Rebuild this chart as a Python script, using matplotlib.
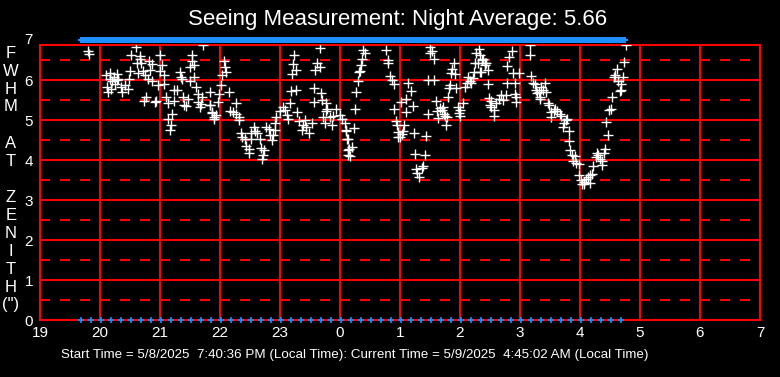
import numpy as np
import matplotlib
matplotlib.use('Agg')
from matplotlib import pyplot as plt
from matplotlib.ticker import MultipleLocator

plt.rcParams['font.family'] = ['Liberation Sans', 'DejaVu Sans']

title = 'Seeing Measurement: Night Average: 5.66'
footer = ('Start Time = 5/8/2025  7:40:36 PM (Local Time): '
          'Current Time = 5/9/2025  4:45:02 AM (Local Time)')
ylabel_letters = ['F', 'W', 'H', 'M', '', 'A', 'T', '', 'Z', 'E', 'N', 'I', 'T', 'H', '(")']
hour_ticks = [19, 20, 21, 22, 23, 24, 25, 26, 27, 28, 29, 30, 31]
hour_labels = ['19', '20', '21', '22', '23', '0', '1', '2', '3', '4', '5', '6', '7']

# measurement times (hours since midnight of 5/8, >24 = next morning)
times = [
    19.795, 19.82, 20.1, 20.17, 20.28, 20.23, 20.16, 20.2, 20.28, 20.3, 20.25, 20.12, 20.14, 20.19, 20.35, 20.42, 20.47, 20.36, 20.48, 20.5, 20.52,
    20.605, 20.62, 20.64, 20.66, 20.67, 20.69, 20.72, 20.75, 20.77, 20.74, 20.8, 20.82, 20.83, 20.86, 20.87, 20.92, 20.94, 20.97, 21.0, 21.0, 21.04, 21.06, 21.07,
    21.1, 21.13, 21.2, 21.14, 21.18, 21.17, 21.24, 21.23, 21.28, 21.34, 21.35, 21.37, 21.39, 21.47, 21.44, 21.4, 21.5, 21.53, 21.54, 21.56, 21.5, 21.57, 21.6, 21.63, 21.7, 21.64, 21.68, 21.67, 21.72,
    21.83, 21.84, 21.86, 21.9, 21.83, 21.87, 21.9, 21.94, 21.97, 21.99, 22.02, 22.04, 22.06, 22.08, 22.1, 22.15, 22.17, 22.22, 22.26, 22.26, 22.31, 22.32,
    22.35, 22.37, 22.41, 22.44, 22.48, 22.48, 22.52, 22.56, 22.59, 22.61, 22.51, 22.66, 22.69, 22.72, 22.7, 22.74, 22.77, 22.81, 22.83, 22.86, 22.89, 22.92, 22.92, 22.94,
    23.0, 23.05, 23.08, 23.11, 23.14, 23.17, 23.29, 23.19, 23.27, 23.24, 23.22, 23.27, 23.2, 23.32, 23.36, 23.39, 23.42, 23.44, 23.48, 23.53, 23.56, 23.57, 23.69, 23.61, 23.59, 23.67, 23.66,
    23.7, 23.77, 23.76, 23.75, 23.72, 23.79, 23.86, 23.83, 23.89, 23.94, 24.0, 24.04, 24.08, 24.1, 24.12, 24.13, 24.14, 24.13, 24.15, 24.2, 24.17, 24.1, 24.24, 24.25, 24.27, 24.3, 24.31, 24.34, 24.35, 24.36, 24.38, 24.41,
    24.77, 24.8, 24.8, 24.83, 24.87, 24.9, 24.9, 24.93, 24.95, 24.97, 25.0, 25.03, 25.05, 24.97, 25.07, 25.02, 25.1, 25.1, 25.14, 25.18, 25.22, 25.24,
    25.25, 25.26, 25.29, 25.32, 25.36, 25.39, 25.42, 25.44, 25.46, 25.47, 25.5, 25.5, 25.54, 25.56, 25.57,
    25.6, 25.62, 25.63, 25.66, 25.7, 25.72, 25.73, 25.75, 25.78, 25.76, 25.8, 25.82, 25.83, 25.85, 25.87, 25.9, 25.92, 25.94, 25.96, 25.98, 26.0, 26.05, 26.0,
    26.08, 26.11, 26.14, 26.17, 26.19, 26.22, 26.23, 26.25, 26.27, 26.31, 26.33, 26.3, 26.34, 26.36, 26.41, 26.39, 26.41, 26.46, 26.35, 26.44, 26.47,
    26.49, 26.52, 26.5, 26.56, 26.52, 26.6, 26.65, 26.68, 26.72, 26.76, 26.56, 26.78, 26.79, 26.81, 26.86, 26.89, 26.91, 26.92, 26.94, 26.93, 26.98,
    27.16, 27.17, 27.19, 27.22, 27.25, 27.27, 27.29, 27.31, 27.33, 27.35, 27.39, 27.42, 27.44, 27.34, 27.46, 27.48,
    27.51, 27.52, 27.56, 27.59, 27.62, 27.66, 27.69, 27.71, 27.73, 27.77, 27.79, 27.81, 27.82, 27.83, 27.86, 27.88, 27.91, 27.94, 27.98,
    27.99, 28.01, 28.03, 28.07, 28.1, 28.13, 28.17, 28.2, 28.16, 28.06,
    28.22, 28.26, 28.28, 28.3, 28.33, 28.37, 28.37, 28.4, 28.42, 28.44, 28.47, 28.49, 28.51, 28.53, 28.56, 28.58, 28.61, 28.63, 28.66, 28.68, 28.69, 28.71, 28.73, 28.76,
]

fwhm = [
    6.73, 6.65, 6.13, 6.17, 6.15, 6.07, 6.03, 5.97, 6.0, 6.02, 5.9, 5.82, 5.7, 5.77, 5.83, 5.88, 5.77, 5.7, 6.02, 6.23, 6.63,
    6.83, 6.43, 6.17, 6.6, 6.53, 6.42, 6.23, 6.13, 5.58, 5.47, 6.02, 6.47, 6.25, 6.4, 5.97, 5.45, 5.48, 5.87, 6.63, 6.23, 6.37, 6.12, 5.9,
    5.58, 5.42, 5.15, 5.02, 4.88, 4.75, 5.48, 5.75, 5.75, 6.2, 6.08, 6.03, 5.58, 5.52, 5.35, 5.38, 6.32, 6.48, 6.63, 6.38, 5.98, 6.08, 5.83, 5.65, 5.57, 5.45, 5.4, 5.33, 6.87,
    5.7, 5.37, 5.2, 5.07, 5.38, 5.17, 5.03, 5.13, 5.45, 5.65, 5.88, 6.13, 6.48, 6.33, 6.2, 5.7, 5.23, 5.2, 5.15, 5.43, 5.08, 5.0,
    4.68, 4.57, 4.52, 4.35, 4.27, 4.17, 4.68, 4.82, 4.73, 4.67, 4.53, 4.53, 4.3, 4.13, 4.03, 4.25, 4.82, 4.78, 4.62, 4.5, 4.62, 4.75, 4.93, 5.07,
    5.23, 5.33, 5.25, 5.13, 5.03, 5.42, 5.2, 5.72, 5.75, 6.62, 6.4, 6.25, 6.15, 4.97, 4.75, 4.87, 5.0, 4.82, 4.67, 4.92, 5.45, 5.8, 5.67, 6.43, 6.25, 6.32, 6.8,
    5.5, 5.43, 5.23, 4.92, 5.07, 5.27, 4.88, 5.07, 5.1, 5.27, 5.12, 5.03, 4.92, 4.75, 4.52, 4.25, 4.12, 4.52, 4.28, 4.33, 4.1, 4.73, 4.8, 5.27, 5.7, 5.98, 6.2, 6.23, 6.37, 6.52, 6.75, 6.68,
    6.75, 6.5, 6.43, 6.1, 6.0, 5.9, 5.27, 4.98, 4.88, 4.7, 4.58, 4.65, 4.73, 4.57, 4.87, 5.45, 5.2, 5.53, 5.92, 5.72, 5.35, 4.67,
    4.15, 3.77, 3.67, 3.58, 3.8, 3.85, 4.12, 4.6, 5.15, 6.0, 6.83, 6.68, 6.72, 6.53, 6.0,
    5.47, 5.23, 5.05, 5.3, 5.25, 5.33, 5.15, 5.1, 5.07, 4.88, 5.58, 5.8, 5.87, 6.17, 6.27, 6.42, 6.15, 5.8, 5.33, 5.18, 5.25, 5.42, 5.1,
    5.83, 5.92, 6.08, 5.97, 5.92, 6.05, 6.2, 6.43, 6.67, 6.78, 6.63, 6.43, 6.2, 6.5, 6.42, 6.53, 6.37, 6.25, 6.2, 6.43, 5.9,
    5.55, 5.47, 5.37, 5.25, 5.33, 5.43, 5.53, 5.62, 5.5, 5.63, 5.1, 5.93, 6.35, 6.57, 6.72, 6.17, 5.93, 5.65, 5.58, 5.45, 6.17,
    6.87, 6.62, 6.1, 5.92, 5.9, 5.75, 5.67, 5.7, 5.58, 5.83, 5.75, 5.92, 5.7, 5.52, 5.42, 5.38,
    5.07, 5.2, 5.23, 5.27, 5.22, 5.15, 5.1, 4.83, 4.92, 5.0, 5.03, 4.73, 4.48, 4.25, 4.12, 3.97, 4.1, 3.93, 3.9,
    3.62, 3.5, 3.4, 3.45, 3.52, 3.58, 3.63, 3.65, 3.43, 3.4,
    3.85, 4.08, 4.17, 4.12, 4.03, 3.98, 3.87, 4.17, 4.28, 4.95, 4.63, 5.25, 5.28, 5.58, 6.07, 6.13, 6.28, 5.98, 5.72, 5.75, 5.9, 6.08, 6.45, 6.87,
]

# blue sample markers: dense at the top, every 10 minutes at the bottom
start_hour = 19 + 40 / 60 + 36 / 3600
end_hour = 24 + 4 + 45 / 60
top_step = 1 / 60
bottom_step = 10 / 60
top_value = 7
bottom_value = 0

assert len(times) == len(fwhm)

fig = plt.figure(figsize=(7.8, 3.77), dpi=100, facecolor='black')
W, H = 780, 377
ax = fig.add_axes([40 / W, (H - 320) / H, 720 / W, 275 / H])
ax.set_facecolor('black')

ax.set_xlim(19, 31)
ax.set_ylim(0, 6.875)
ax.set_xticks(hour_ticks)
ax.set_xticklabels(hour_labels)
ax.set_yticks(range(0, 7))
ax.yaxis.set_minor_locator(MultipleLocator(0.5))
ax.tick_params(which='both', length=0, colors='white', labelsize=11)
ax.tick_params(axis='y', pad=5)
ax.tick_params(axis='x', pad=4)

ax.grid(which='major', color='red', lw=1.5, ls='-')
ax.yaxis.grid(which='minor', color='red', lw=1.5, ls=(0, (4.8, 4.8)))
ax.set_axisbelow(True)
for sp in ax.spines.values():
    sp.set_color('red')
    sp.set_linewidth(1.5)

ax.annotate('7', xy=(0, 7), xycoords=('axes fraction', 'data'), xytext=(-5, 0),
            textcoords='offset points', ha='right', va='center', color='white',
            fontsize=11, annotation_clip=False)

top_t = np.arange(start_hour, end_hour, top_step)
bot_t = np.arange(start_hour, end_hour + 0.01, bottom_step)
ax.plot(top_t, [top_value] * len(top_t), '+', color='#1E8FFF', ms=4.5, mew=1.5, clip_on=False, zorder=4)
ax.plot(bot_t, [bottom_value] * len(bot_t), '+', color='#1E8FFF', ms=5, mew=1.2, clip_on=False, zorder=4)

ax.plot(times, fwhm, '+', color='white', ms=6.5, mew=1, zorder=5)

fig.text(398 / W, 1 - 20 / H, title, color='white', fontsize=16, ha='center', va='center')
fig.text(355 / W, 1 - 355 / H, footer, color='white', fontsize=9.6, ha='center', va='center')
for i, ch in enumerate(ylabel_letters):
    fig.text(11 / W, 1 - (53 + 18 * i) / H, ch, color='white', fontsize=12, ha='center', va='center')

fig.savefig('out.png', dpi=100, facecolor='black')
